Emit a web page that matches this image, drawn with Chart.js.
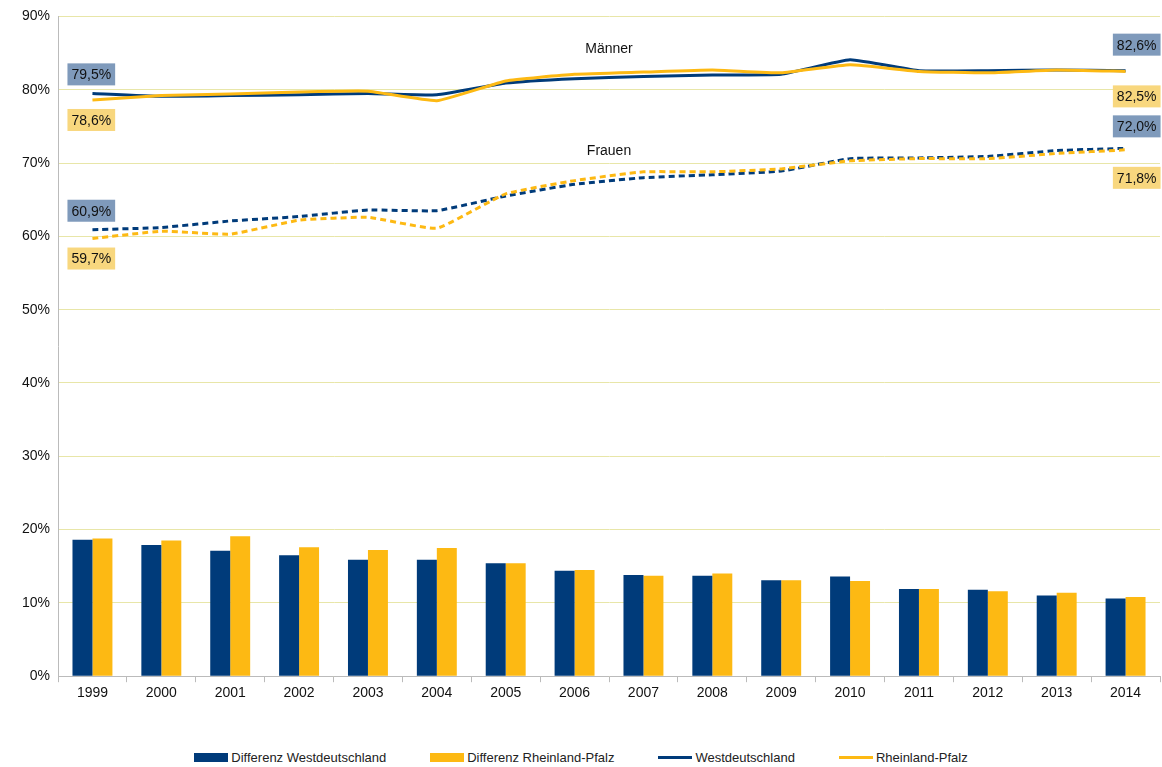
<!DOCTYPE html>
<html><head><meta charset="utf-8">
<script src="https://cdn.jsdelivr.net/npm/chart.js@4/dist/chart.umd.min.js"></script>
<style>
body{margin:0;background:#fff;font-family:"Liberation Sans",Arial,sans-serif;}
#wrap{position:relative;width:1162px;height:705px;}
#legend{position:absolute;top:750px;left:0;width:1162px;display:flex;justify-content:center;font-size:13px;color:#222;}
#legend span{display:inline-flex;align-items:center;margin:0 22px;}
#legend i{display:inline-block;width:34px;margin-right:3px;}
</style></head><body>
<div id="wrap"><canvas id="c"></canvas></div>
<div id="legend">
<span><i style="height:9px;background:#003B7A"></i>Differenz Westdeutschland</span>
<span><i style="height:9px;background:#FDB913"></i>Differenz Rheinland-Pfalz</span>
<span><i style="height:3px;background:#003B7A"></i>Westdeutschland</span>
<span><i style="height:3px;background:#FDB913"></i>Rheinland-Pfalz</span>
</div>
<script>
const years = ['1999','2000','2001','2002','2003','2004','2005','2006','2007','2008','2009','2010','2011','2012','2013','2014'];
const diffWest = [18.6,17.9,17.1,16.5,15.9,15.9,15.4,14.4,13.8,13.7,13.1,13.6,11.9,11.8,11.0,10.6];
const diffRP = [18.8,18.5,19.1,17.6,17.2,17.5,15.4,14.5,13.7,14.0,13.1,13.0,11.9,11.6,11.4,10.8];
const maennerWest = [79.5,79.1,79.2,79.3,79.5,79.3,80.9,81.5,81.8,82.0,82.1,84.1,82.6,82.6,82.7,82.6];
const maennerRP = [78.6,79.2,79.4,79.7,79.8,78.5,81.2,82.1,82.4,82.7,82.3,83.4,82.5,82.3,82.7,82.5];
const frauenWest = [60.9,61.2,62.1,62.7,63.6,63.5,65.5,67.1,68.0,68.4,68.9,70.6,70.7,70.9,71.7,72.0];
const frauenRP = [59.7,60.7,60.3,62.2,62.6,61.1,65.8,67.6,68.8,68.8,69.2,70.3,70.6,70.6,71.3,71.8];

const blue = '#003B7A', yellow = '#FDB913';
const fmt = v => v.toFixed(1).replace('.', ',') + '%';

const labelPlugin = {
  id: 'labels',
  afterDatasetsDraw(chart) {
    const ctx = chart.ctx, x = chart.scales.x, y = chart.scales.y;
    ctx.save();
    ctx.font = '14px "Liberation Sans", Arial, sans-serif';
    ctx.textBaseline = 'middle';
    function box(text, px, py, bg, align) {
      const w = ctx.measureText(text).width + 8, h = 22;
      const left = align === 'right' ? px - w : px;
      ctx.fillStyle = bg; ctx.fillRect(left, py - h / 2, w, h);
      ctx.fillStyle = '#111'; ctx.textAlign = 'left';
      ctx.fillText(text, left + 4, py + 1);
    }
    const last = years.length - 1;
    const x0 = x.getPixelForValue(0) - 25, x1 = x.getPixelForValue(last) + 35;
    box(fmt(maennerWest[0]), x0, y.getPixelForValue(maennerWest[0]) - 19, '#7F9ABB', 'left');
    box(fmt(maennerRP[0]), x0, y.getPixelForValue(maennerRP[0]) + 20, '#F8D77E', 'left');
    box(fmt(frauenWest[0]), x0, y.getPixelForValue(frauenWest[0]) - 19, '#7F9ABB', 'left');
    box(fmt(frauenRP[0]), x0, y.getPixelForValue(frauenRP[0]) + 20, '#F8D77E', 'left');
    box(fmt(maennerWest[last]), x1, y.getPixelForValue(maennerWest[last]) - 26, '#7F9ABB', 'right');
    box(fmt(maennerRP[last]), x1, y.getPixelForValue(maennerRP[last]) + 25, '#F8D77E', 'right');
    box(fmt(frauenWest[last]), x1, y.getPixelForValue(frauenWest[last]) - 22, '#7F9ABB', 'right');
    box(fmt(frauenRP[last]), x1, y.getPixelForValue(frauenRP[last]) + 28, '#F8D77E', 'right');
    ctx.fillStyle = '#111'; ctx.textAlign = 'center';
    const mx = (x.getPixelForValue(7) + x.getPixelForValue(8)) / 2;
    ctx.fillText('Männer', mx, y.getPixelForValue(85.6));
    ctx.fillText('Frauen', mx, y.getPixelForValue(71.6));
    ctx.restore();
  }
};

new Chart(document.getElementById('c'), {
  type: 'bar',
  data: {
    labels: years,
    datasets: [
      { type: 'line', data: maennerWest, borderColor: blue, borderWidth: 3, pointRadius: 0, tension: 0.12, order: 1 },
      { type: 'line', data: maennerRP, borderColor: yellow, borderWidth: 3, pointRadius: 0, tension: 0.12, order: 0 },
      { type: 'line', data: frauenWest, borderColor: blue, borderWidth: 3, borderDash: [6, 4], pointRadius: 0, tension: 0.12, order: 1 },
      { type: 'line', data: frauenRP, borderColor: yellow, borderWidth: 3, borderDash: [6, 4], pointRadius: 0, tension: 0.12, order: 0 },
      { data: diffWest, backgroundColor: blue, categoryPercentage: 0.58, barPercentage: 1, order: 2 },
      { data: diffRP, backgroundColor: yellow, categoryPercentage: 0.58, barPercentage: 1, order: 2 }
    ]
  },
  options: {
    responsive: true,
    maintainAspectRatio: false,
    animation: false,
    layout: { padding: { top: 10, right: 2, left: 14, bottom: 0 } },
    plugins: { legend: { display: false }, tooltip: { enabled: false } },
    scales: {
      x: {
        grid: { display: true, offset: true, drawOnChartArea: false, color: '#bbb', tickLength: 6 },
        border: { color: '#bbb' },
        ticks: { color: '#111', font: { size: 14, family: '"Liberation Sans", Arial' } }
      },
      y: {
        min: 0, max: 90,
        grid: { color: '#E8E6A8', drawTicks: false },
        border: { color: '#bbb' },
        ticks: { stepSize: 10, padding: 8, color: '#111', font: { size: 14, family: '"Liberation Sans", Arial' }, callback: v => v + '%' }
      }
    }
  },
  plugins: [labelPlugin]
});
</script>
</body></html>
